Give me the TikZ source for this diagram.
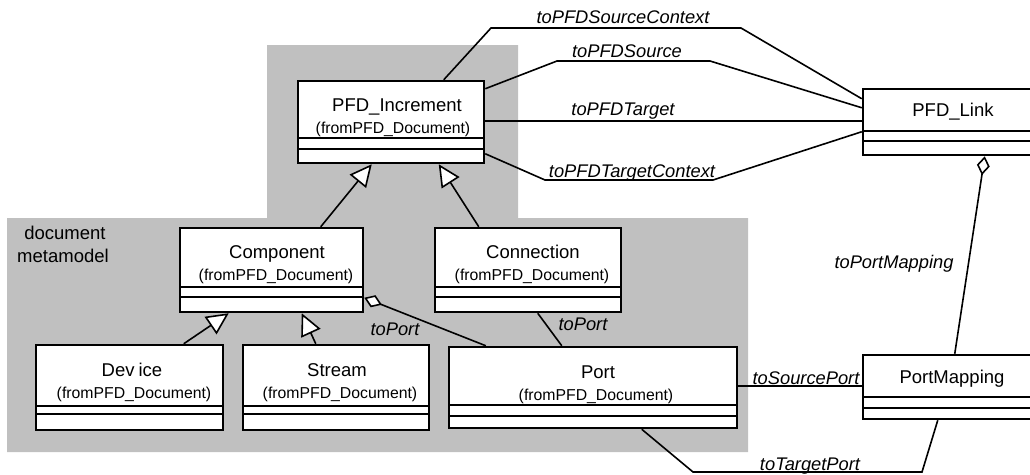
\documentclass[tikz,border=0pt]{standalone}
\usepackage{fontspec}
\setmainfont{Liberation Sans}
\usetikzlibrary{arrows.meta,calc}

\definecolor{pkggray}{HTML}{C0C0C0}

\tikzset{
  classbox/.style={rectangle, draw=black, fill=white, line width=2.5pt, inner sep=0pt},
  divider/.style={line width=1.8pt},
  classname/.style={font=\fontsize{18.5}{20}\selectfont, inner sep=0pt, anchor=base},
  stereo/.style={font=\fontsize{15.8}{18}\selectfont, inner sep=0pt, anchor=base},
  pkglabel/.style={font=\fontsize{18.5}{20}\selectfont, inner sep=0pt, anchor=base},
  role/.style={font=\fontsize{18.3}{20}\selectfont\itshape, inner sep=0pt, anchor=base},
  assoc/.style={line width=1.6pt},
  inherit/.style={assoc, -{Triangle[length=22pt, width=21pt, fill=white]}},
  aggr/.style={assoc, {Diamond[length=19pt, width=13pt, fill=white]}-},
}

% class frame: name, left, top, right, bottom, first divider, second divider
\newcommand\umlframe[7]{%
  \node[classbox, minimum width={(#4-#2)*1pt}, minimum height={(#5-#3)*1pt}]
    (#1) at ({(#2+#4)/2},{(#3+#5)/2}) {};
  \draw[divider] (#2,#6) -- (#4,#6);
  \draw[divider] (#2,#7) -- (#4,#7);
}

\begin{document}
\begin{tikzpicture}[x=1pt,y=-1pt]
\clip (0,0) rectangle (1030,474);

% package backdrop
\fill[pkggray] (267,45) -- (518,45) -- (518,218) -- (748,218) -- (748,452)
  -- (7,452) -- (7,218) -- (267,218) -- cycle;
\node[pkglabel] (pkgA) at (65,239) {document};
\node[pkglabel] (pkgB) at (63,262) {metamodel};

% classes
\umlframe{inc}{298}{81}{484}{163}{138}{149}
\node[classname] (inc-t) at (397,111) {PFD\_Increment};
\node[stereo] (inc-s) at (393,133) {(fromPFD\_Document)};

\umlframe{link}{863}{89}{1043}{155}{131}{141}
\node[classname] (link-t) at (953,116) {PFD\_Link};

\umlframe{comp}{180}{228}{363}{312}{287}{297}
\node[classname] (comp-t) at (277,258) {Component};
\node[stereo] (comp-s) at (276,280) {(fromPFD\_Document)};

\umlframe{conn}{435}{228}{621}{312}{287}{297}
\node[classname] (conn-t) at (533,258) {Connection};
\node[stereo] (conn-s) at (532,280) {(fromPFD\_Document)};

\umlframe{dev}{36}{345}{223}{430}{406}{414}
\node[classname] (dev-t) at (132,376) {Dev\kern4pt ice};
\node[stereo] (dev-s) at (134,398) {(fromPFD\_Document)};

\umlframe{stream}{243}{345}{429}{430}{406}{414}
\node[classname] (stream-t) at (337,376) {Stream};
\node[stereo] (stream-s) at (340,398) {(fromPFD\_Document)};

\umlframe{port}{449}{347}{737}{428}{405}{416}
\node[classname] (port-t) at (598,378) {Port};
\node[stereo] (port-s) at (596,400) {(fromPFD\_Document)};

\umlframe{map}{863}{355}{1043}{419}{397}{408}
\node[classname] (map-t) at (952,383) {PortMapping};

% associations between increment and link
\draw[assoc] ($(inc.north west)+(147,0)$) -- (491,28) -- (741,28)
  -- ($(link.north west)+(0,11)$);
\draw[assoc] ($(inc.north east)+(0,9)$) -- (557,61) -- (710,61)
  -- ($(link.north west)+(0,20)$);
\draw[assoc] ($(inc.north east)+(0,41)$) -- ($(link.north west)+(0,33)$);
\draw[assoc] ($(inc.north east)+(0,74)$) -- (545,180) -- (713,180)
  -- ($(link.north west)+(0,44)$);

% generalizations
\draw[inherit] ($(comp.north west)+(142,0)$) -- ($(inc.south west)+(75,0)$);
\draw[inherit] ($(conn.north west)+(45,0)$) -- ($(inc.south west)+(142,0)$);
\draw[inherit] ($(dev.north west)+(149,0)$) -- ($(comp.south west)+(50,0)$);
\draw[inherit] ($(stream.north west)+(74,0)$) -- ($(comp.south west)+(123,0)$);

% aggregations
\draw[aggr] ($(comp.north east)+(0,71)$) -- ($(port.north west)+(38,0)$);
\draw[aggr] ($(link.south west)+(123,0)$) -- ($(map.north west)+(93,0)$);

% port associations
\draw[assoc] ($(conn.south west)+(104,0)$) -- ($(port.north west)+(114,0)$);
\draw[assoc] ($(port.north east)+(0,40)$) -- ($(map.north west)+(0,32)$);
\draw[assoc] ($(port.south west)+(194,0)$) -- (693,472) -- (922,472)
  -- ($(map.south west)+(76,0)$);

% role names
\node[role] (r-srcctx) at (623,23) {toPFDSourceContext};
\node[role] (r-src) at (627,57) {toPFDSource};
\node[role] (r-tgt) at (623,115) {toPFDTarget};
\node[role] (r-tgtctx) at (632,177) {toPFDTargetContext};
\node[role] (r-map) at (894,268) {toPortMapping};
\node[role] (r-sport) at (806,384) {toSourcePort};
\node[role] (r-tport) at (810,470) {toTargetPort};
\node[role] (r-port1) at (395,335) {toPort};
\node[role] (r-port2) at (583,330) {toPort};
\end{tikzpicture}
\end{document}
